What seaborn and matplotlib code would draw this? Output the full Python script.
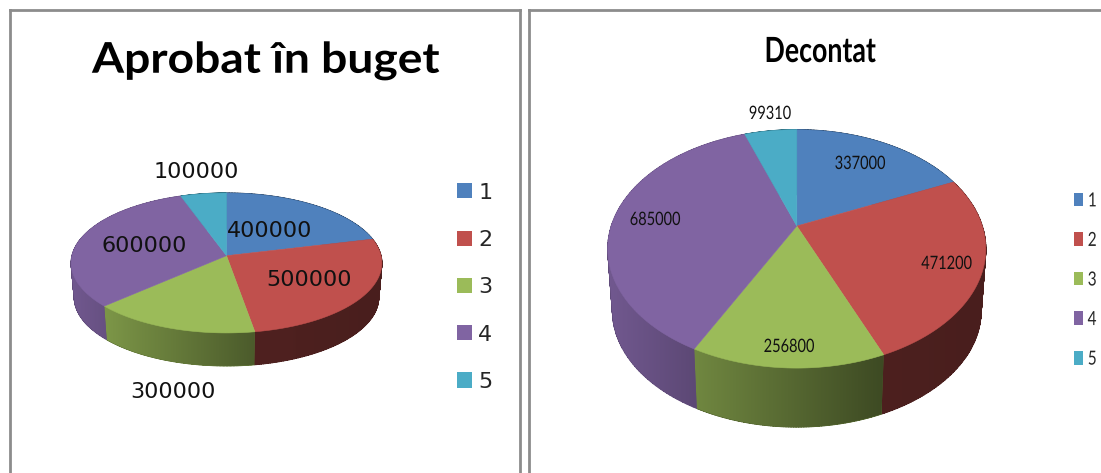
import numpy as np
import matplotlib
matplotlib.use("Agg")
import matplotlib.pyplot as plt
import matplotlib.patheffects as pe
from matplotlib.patches import Patch, PathPatch
from matplotlib.path import Path
from matplotlib.transforms import Affine2D
import seaborn as sns

# chart data
categories = ["1", "2", "3", "4", "5"]
aprobat_values = [400000, 500000, 300000, 600000, 100000]
decontat_values = [337000, 471200, 256800, 685000, 99310]
titles = ["Aprobat în buget", "Decontat"]

sns.set_theme(style="white")
palette = sns.color_palette(["#4F81BD", "#C0504D", "#9BBB59", "#8064A2", "#4BACC6"])

W, H = 1101, 473


class Stretch(pe.AbstractPathEffect):
    # the reference was resized unevenly, so squeeze or widen text along x
    def __init__(self, factor, center=True):
        super().__init__()
        self.factor = factor
        self.center = center

    def draw_path(self, renderer, gc, tpath, affine, rgbFace=None):
        box = affine.transform_path(tpath).get_extents()
        pivot = (box.x0 + box.x1) / 2 if self.center else box.x0
        squeeze = Affine2D().translate(-pivot, 0).scale(self.factor, 1).translate(pivot, 0)
        renderer.draw_path(gc, tpath, affine + squeeze, rgbFace)


def project(theta, cx, cy, rx, ry, k):
    # theta runs clockwise from the top of the pie, k is the perspective amount
    s = 1 / (1 + k * np.cos(theta))
    return cx + rx * np.sin(theta) * s, cy - ry * np.cos(theta) * s


def rim_path(xt, yt, xb, yb):
    # one quad per arc step, all wound the same way so the union fills solid
    quads = []
    for i in range(len(xt) - 1):
        q = np.array([[xt[i], yt[i]], [xt[i + 1], yt[i + 1]], [xb[i + 1], yb[i + 1]], [xb[i], yb[i]]])
        area = np.sum(q[:, 0] * np.roll(q[:, 1], -1) - np.roll(q[:, 0], -1) * q[:, 1])
        quads.append(Path(np.r_[q if area > 0 else q[::-1], q[:1] if area > 0 else q[-1:]], closed=True))
    return Path.make_compound_path(*quads)


def draw_pie(ax, values, hub, rx, ry, k, depth, shrink):
    cx, cy = hub
    edges = np.concatenate([[0], np.cumsum(values)]) / np.sum(values) * 2 * np.pi

    for i, color in enumerate(palette):
        t = np.linspace(edges[i], edges[i + 1], 120)
        xt, yt = project(t, cx, cy, rx, ry, k)

        # side wall: a left to right gradient clipped to the rim of the slice
        xb, yb = project(t, cx, cy + depth, rx * shrink, ry * shrink, k)
        rim = rim_path(xt, yt, xb, yb)
        x0, x1 = min(xt.min(), xb.min()), max(xt.max(), xb.max())
        y0, y1 = min(yt.min(), yb.min()), max(yt.max(), yb.max())
        xs = np.linspace(x0, x1, 256)
        shade = np.interp((xs - cx) / rx, [-1, -0.6, 0.45, 1], [0.88, 0.74, 0.40, 0.38])
        if i == 1:
            shade = np.minimum(shade, 0.41)  # the red wall stays flat and dark
        grad = np.outer(shade, color)[np.newaxis, :, :]
        # plain fill underneath so the clipped image gets no white fringe
        ax.add_patch(PathPatch(rim, color=tuple(np.mean(shade) * np.array(color)), lw=0.8, zorder=1.9))
        im = ax.imshow(grad, extent=[x0, x1, y1, y0], aspect="auto", interpolation="bilinear", zorder=2)
        im.set_clip_path(rim, transform=ax.transData)

    # top faces go over all of the side walls
    for i, color in enumerate(palette):
        t = np.linspace(edges[i], edges[i + 1], 120)
        xt, yt = project(t, cx, cy, rx, ry, k)
        ax.fill(np.r_[cx, xt], np.r_[cy, yt], color=color, lw=0.4, zorder=3)


fig = plt.figure(figsize=(W / 100, H / 100), dpi=100, facecolor="white")

# left panel
ax1 = fig.add_axes([10 / W, -20 / H, 510 / W, (H + 20 - 10) / H])
draw_pie(ax1, aprobat_values, (226.5, 255.7), 154.5, 69.2, 0.104, 34.5, 0.98)
ax1.set_xlim(10, 520)
ax1.set_ylim(H + 20, 10)

left_font = "DejaVu Sans"
left_pos = [(269.5, 231), (309.4, 280), (172.5, 392), (144.4, 246), (196.5, 172)]
for v, (x, y) in zip(aprobat_values, left_pos):
    ax1.text(x, y, str(v), ha="center", va="center", fontsize=16, family=left_font,
             color="#111111", zorder=5)
ax1.text(266, 61, titles[0], ha="center", va="center", fontsize=30.5, family="Lato",
         fontweight="bold", color="black", path_effects=[Stretch(1.09)])
handles = [Patch(facecolor=c, edgecolor="none", label=n) for c, n in zip(palette, categories)]
ax1.legend(handles=handles, loc="center left", bbox_to_anchor=(0.876, 0.426), frameon=False,
           prop={"family": left_font, "size": 16}, handlelength=0.67, handleheight=0.67,
           handletextpad=0.3, labelspacing=1.227, borderpad=0, borderaxespad=0)

# right panel
ax2 = fig.add_axes([529 / W, -20 / H, (W + 20 - 529) / W, (H + 20 - 10) / H])
draw_pie(ax2, decontat_values, (796.8, 226), 185.5, 114.8, 0.192, 62.5, 0.975)
ax2.set_xlim(529, W + 20)
ax2.set_ylim(H + 20, 10)

right_font = "Lato"
right_pos = [(860, 164), (946.6, 264), (789, 347), (655, 220), (770, 114)]
for v, (x, y) in zip(decontat_values, right_pos):
    ax2.text(x, y, str(v), ha="center", va="center", fontsize=13.3, family=right_font,
             color="#111111", zorder=5, path_effects=[Stretch(0.79)])
ax2.text(820, 52, titles[1], ha="center", va="center", fontsize=25, family=right_font,
         fontweight="bold", color="black", path_effects=[Stretch(0.77)])
leg = ax2.legend(handles=handles, loc="center left", bbox_to_anchor=(0.9205, 0.441), frameon=False,
                 prop={"family": right_font, "size": 14}, handlelength=0.48, handleheight=0.7,
                 handletextpad=0.22, labelspacing=1.16, borderpad=0, borderaxespad=0)
for label in leg.get_texts():
    label.set_path_effects([Stretch(0.79, center=False)])

for ax in (ax1, ax2):
    ax.set_xticks([])
    ax.set_yticks([])
    for side in ax.spines.values():
        side.set_color("#8c8c8c")
        side.set_linewidth(2)

fig.savefig("out.png", dpi=100)
